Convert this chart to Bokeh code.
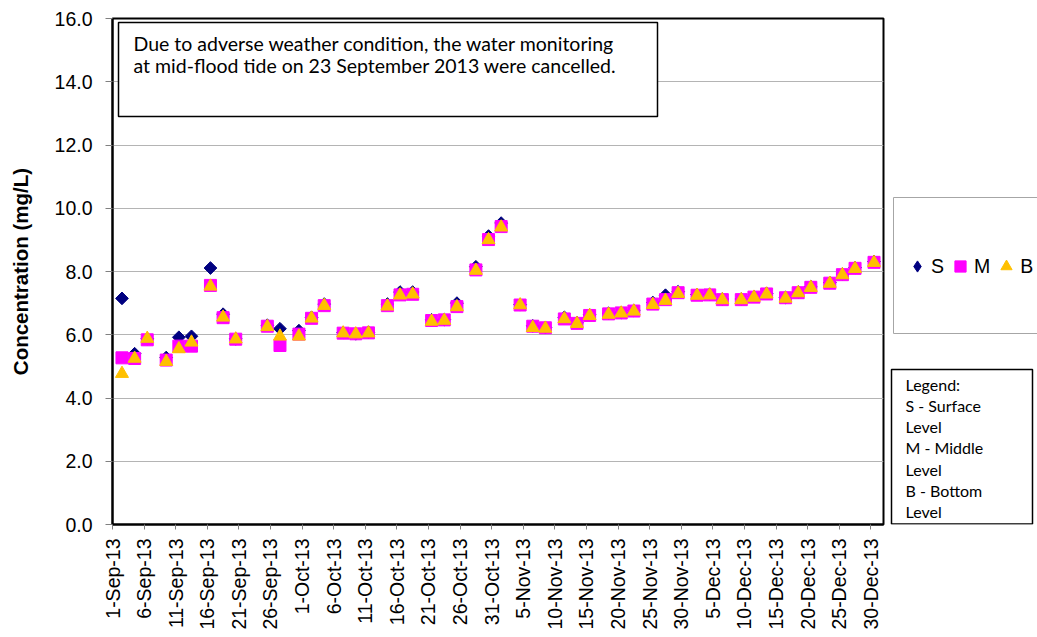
import numpy as np
import pandas as pd
from bokeh.plotting import figure
from bokeh.layouts import row
from bokeh.models import (Range1d, FixedTicker, Legend, LegendItem, Label,
                          BoxAnnotation, PrintfTickFormatter)
from bokeh.embed import file_html
from bokeh.resources import INLINE

# ---------------- data ----------------
dates = ["2013-09-02", "2013-09-04", "2013-09-06", "2013-09-09", "2013-09-11",
         "2013-09-13", "2013-09-16", "2013-09-18", "2013-09-20", "2013-09-25",
         "2013-09-27", "2013-09-30", "2013-10-02", "2013-10-04", "2013-10-07",
         "2013-10-09", "2013-10-11", "2013-10-14", "2013-10-16", "2013-10-18",
         "2013-10-21", "2013-10-23", "2013-10-25", "2013-10-28", "2013-10-30",
         "2013-11-01", "2013-11-04", "2013-11-06", "2013-11-08", "2013-11-11",
         "2013-11-13", "2013-11-15", "2013-11-18", "2013-11-20", "2013-11-22",
         "2013-11-25", "2013-11-27", "2013-11-29", "2013-12-02", "2013-12-04",
         "2013-12-06", "2013-12-09", "2013-12-11", "2013-12-13", "2013-12-16",
         "2013-12-18", "2013-12-20", "2013-12-23", "2013-12-25", "2013-12-27",
         "2013-12-30"]

surface = [7.15, 5.40, 5.87, 5.28, 5.92, 5.95, 8.11, 6.65, 5.87, 6.30,
           6.19, 6.13, 6.55, 6.97, 6.07, 6.03, 6.08, 6.97, 7.35, 7.35,
           6.47, 6.48, 7.00, 8.15, 9.12, 9.53, 6.95, 6.28, 6.23, 6.55,
           6.38, 6.63, 6.68, 6.70, 6.77, 7.02, 7.25, 7.36, 7.27, 7.28,
           7.13, 7.13, 7.21, 7.31, 7.18, 7.35, 7.52, 7.65, 7.92, 8.12,
           8.32]

middle = [5.27, 5.25, 5.84, 5.20, 5.64, 5.64, 7.56, 6.54, 5.86, 6.27,
          5.66, 6.02, 6.52, 6.92, 6.05, 6.03, 6.06, 6.92, 7.26, 7.28,
          6.45, 6.47, 6.89, 8.05, 9.01, 9.42, 6.94, 6.27, 6.22, 6.50,
          6.36, 6.61, 6.66, 6.69, 6.75, 6.97, 7.11, 7.33, 7.25, 7.26,
          7.11, 7.11, 7.19, 7.29, 7.17, 7.33, 7.50, 7.63, 7.90, 8.10,
          8.29]

bottom = [4.77, 5.25, 5.88, 5.15, 5.55, 5.76, 7.53, 6.55, 5.86, 6.25,
          5.95, 5.95, 6.52, 6.92, 6.05, 6.02, 6.05, 6.90, 7.25, 7.28,
          6.42, 6.45, 6.88, 8.03, 9.00, 9.40, 6.94, 6.22, 6.20, 6.50,
          6.35, 6.60, 6.64, 6.68, 6.74, 6.95, 7.08, 7.30, 7.24, 7.25,
          7.10, 7.10, 7.18, 7.28, 7.15, 7.32, 7.49, 7.62, 7.89, 8.09,
          8.28]

series_names = ["S", "M", "B"]
series_colors = ["#000080", "#FF00FF", "#FFC000"]

x_tick_labels = ["1-Sep-13", "6-Sep-13", "11-Sep-13", "16-Sep-13", "21-Sep-13",
                 "26-Sep-13", "1-Oct-13", "6-Oct-13", "11-Oct-13", "16-Oct-13",
                 "21-Oct-13", "26-Oct-13", "31-Oct-13", "5-Nov-13", "10-Nov-13",
                 "15-Nov-13", "20-Nov-13", "25-Nov-13", "30-Nov-13", "5-Dec-13",
                 "10-Dec-13", "15-Dec-13", "20-Dec-13", "25-Dec-13", "30-Dec-13"]
y_ticks = [0, 2, 4, 6, 8, 10, 12, 14, 16]

note_text = ("Due  to adverse weather condition, the  water monitoring\n"
             "at mid-flood tide on 23 September 2013 were cancelled.")
legend_note = "Legend:\nS - Surface\nLevel\nM - Middle\nLevel\nB - Bottom\nLevel"

# ---------------- derived ----------------
start = pd.Timestamp("2013-09-01")
end = pd.Timestamp("2014-01-01")
x_day = np.array([(pd.Timestamp(d) - start).days + 0.5 for d in dates])
tick_pos = [(pd.to_datetime(t, format="%d-%b-%y") - start).days for t in x_tick_labels]

FONT = "Liberation Sans"
TXT = "Lato"
H = 637

# ---------------- main chart ----------------
p = figure(width=886, height=H,
           x_range=Range1d(0, (end - start).days), y_range=Range1d(0, 16),
           output_backend="svg", toolbar_location=None,
           min_border_left=112, min_border_right=3,
           min_border_top=18, min_border_bottom=113)

p.background_fill_color = "white"
p.border_fill_color = "white"
p.outline_line_color = "black"
p.outline_line_width = 2

p.xgrid.grid_line_color = None
p.ygrid.grid_line_color = "#b4b4b4"
p.ygrid.grid_line_width = 1
p.ygrid.ticker = FixedTicker(ticks=y_ticks)

p.xaxis.ticker = FixedTicker(ticks=tick_pos)
p.xaxis.major_label_overrides = {pos: lab for pos, lab in zip(tick_pos, x_tick_labels)}
p.xaxis.major_label_orientation = np.pi / 2
p.xaxis.major_label_text_font = FONT
p.xaxis.major_label_text_font_size = "19.5px"
p.xaxis.major_label_text_color = "black"
p.xaxis.major_label_standoff = 9
p.xaxis.major_tick_out = 5
p.xaxis.major_tick_in = 0
p.xaxis.minor_tick_line_color = None
p.xaxis.major_tick_line_color = "#808080"
p.xaxis.axis_line_color = "black"
p.xaxis.axis_line_width = 2

p.yaxis.ticker = FixedTicker(ticks=y_ticks)
p.yaxis.formatter = PrintfTickFormatter(format="%.1f")
p.yaxis.major_label_text_font = FONT
p.yaxis.major_label_text_font_size = "19.5px"
p.yaxis.major_label_text_color = "black"
p.yaxis.major_label_standoff = 13
p.yaxis.major_tick_out = 7
p.yaxis.major_tick_in = 0
p.yaxis.minor_tick_line_color = None
p.yaxis.major_tick_line_color = "#808080"
p.yaxis.axis_line_color = "black"
p.yaxis.axis_line_width = 2
p.yaxis.axis_label = "Concentration (mg/L)"
p.yaxis.axis_label_text_font = FONT
p.yaxis.axis_label_text_font_size = "20.5px"
p.yaxis.axis_label_text_font_style = "bold"
p.yaxis.axis_label_text_color = "black"
p.yaxis.axis_label_standoff = 20

p.scatter(x_day, surface, marker="square", angle=np.pi / 4, size=9,
          fill_color=series_colors[0], line_color=series_colors[0])
p.scatter(x_day, middle, marker="square", size=12,
          fill_color=series_colors[1], line_color=series_colors[1])
p.scatter(x_day, bottom, marker="triangle", size=13,
          fill_color=series_colors[2], line_color=series_colors[2])

# note box inside plot area (screen units from frame bottom-left)
p.add_layout(BoxAnnotation(left=6, right=545, top=502, bottom=408,
                           left_units="screen", right_units="screen",
                           top_units="screen", bottom_units="screen",
                           fill_color="white", fill_alpha=1,
                           line_color="black", line_alpha=1, line_width=1.5))
p.add_layout(Label(x=21, y=492.5, x_units="screen", y_units="screen",
                   text=note_text, text_font=TXT, text_font_size="19.5px",
                   text_baseline="top", text_align="left", text_color="black",
                   text_line_height=0.945))

# ---------------- right side panel (legend + note) ----------------
# its frame is aligned with the main frame (y from 18 to 524 in the page)
q = figure(width=1037 - 886, height=H, x_range=Range1d(0, 1), y_range=Range1d(0, 1),
           output_backend="svg", toolbar_location=None,
           x_axis_location=None, y_axis_location=None,
           min_border_left=0, min_border_right=0, min_border_top=0, min_border_bottom=0)
q.outline_line_color = None
q.xgrid.visible = False
q.ygrid.visible = False
q.background_fill_color = "white"
q.border_fill_color = "white"

q.add_layout(BoxAnnotation(left=7, right=170, top=327, bottom=191,
                           left_units="screen", right_units="screen",
                           top_units="screen", bottom_units="screen",
                           fill_color="white", fill_alpha=1,
                           line_color="#a6a6a6", line_alpha=1, line_width=1))

# legend key proxies (NaN position: not drawn in the frame, only in the legend)
proxy = dict(x=[np.nan], y=[np.nan])
lS = q.scatter(proxy["x"], proxy["y"], marker="diamond", size=12,
               fill_color=series_colors[0], line_color=series_colors[0])
lM = q.scatter(proxy["x"], proxy["y"], marker="square", size=12,
               fill_color=series_colors[1], line_color=series_colors[1])
lB = q.scatter(proxy["x"], proxy["y"], marker="triangle", size=13,
               fill_color=series_colors[2], line_color=series_colors[2])

legend = Legend(items=[LegendItem(label=n, renderers=[r])
                       for n, r in zip(series_names, [lS, lM, lB])],
                orientation="horizontal", location=(17, 244),
                padding=0, margin=0, spacing=2, glyph_width=28, glyph_height=28,
                label_standoff=0, label_width=0,
                label_text_font=FONT, label_text_font_size="19.5px",
                label_text_color="black", border_line_color=None,
                background_fill_alpha=0)
q.add_layout(legend, "center")

q.add_layout(BoxAnnotation(left=5, right=146, top=155, bottom=0.5,
                           left_units="screen", right_units="screen",
                           top_units="screen", bottom_units="screen",
                           fill_color="white", fill_alpha=1,
                           line_color="black", line_alpha=1, line_width=1.5))
q.add_layout(Label(x=19, y=150, x_units="screen", y_units="screen",
                   text=legend_note, text_font=TXT, text_font_size="16px",
                   text_baseline="top", text_align="left", text_color="black",
                   text_line_height=1.12))

layout = row(p, q, spacing=0)
open("out.html", "w").write(file_html(layout, INLINE))
